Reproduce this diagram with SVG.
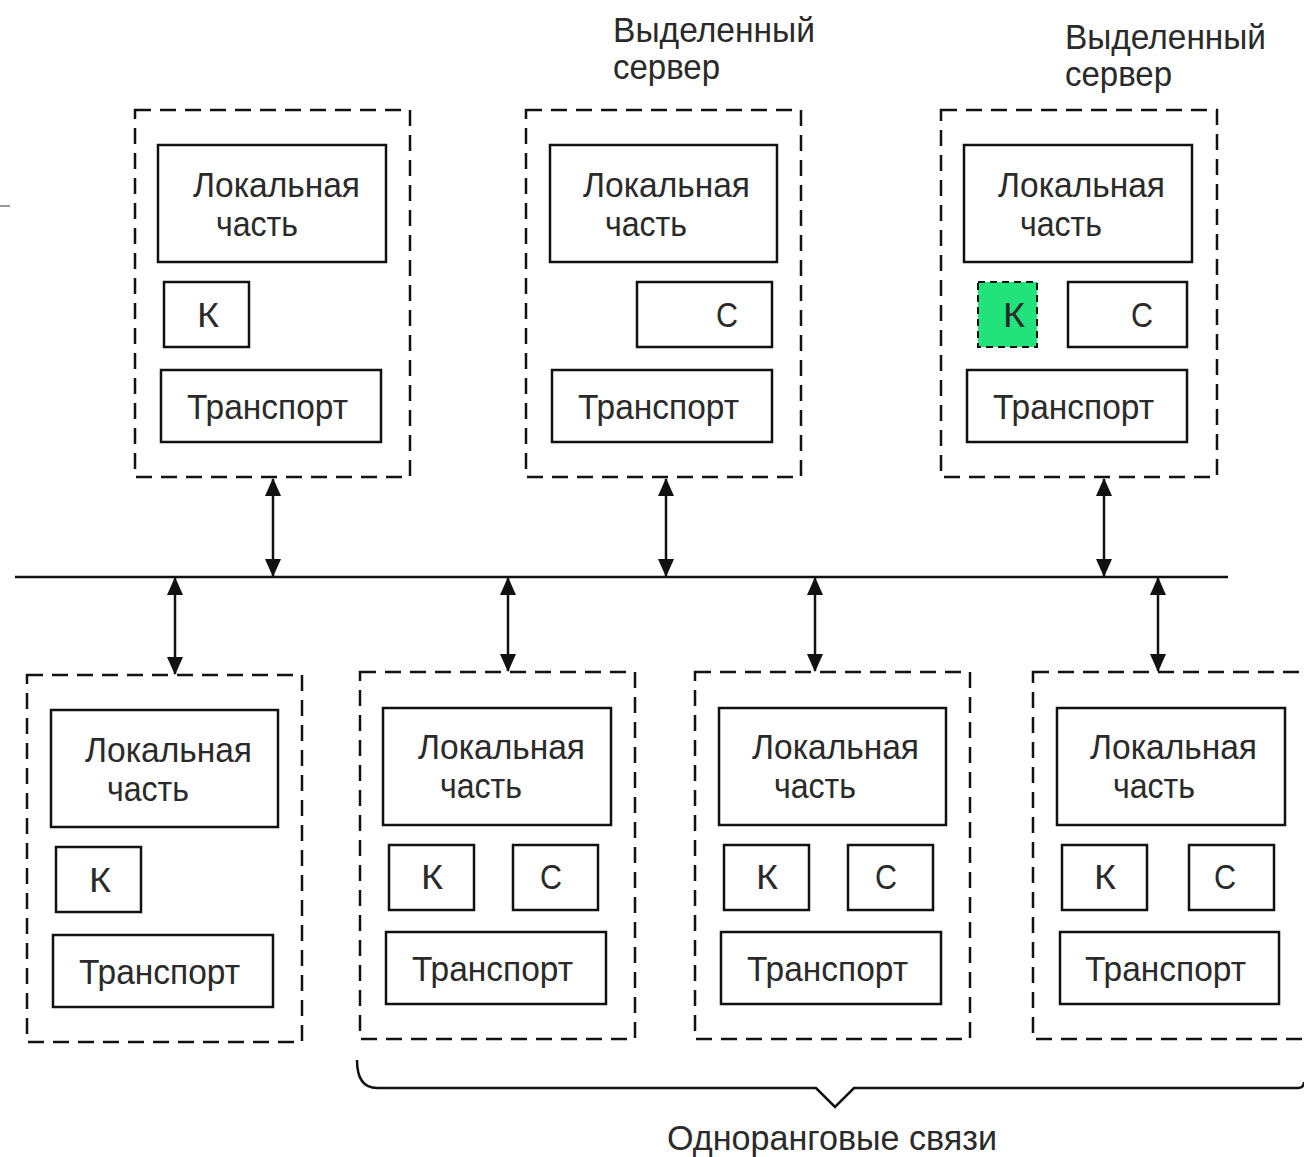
<svg xmlns="http://www.w3.org/2000/svg" width="1304" height="1157" viewBox="0 0 1304 1157">
<style>
.dash{fill:none;stroke:#111;stroke-width:2.5;stroke-dasharray:16 9}
.box{fill:#fff;stroke:#111;stroke-width:2.5}
.gbox{fill:#22e37a;stroke:#111;stroke-width:2;stroke-dasharray:7 5}
text{font-family:"Liberation Sans",Arial,sans-serif;font-size:35px;fill:#2a2a2a}
.lnk{stroke:#111;stroke-width:2.5;fill:none}
</style>
<defs>
<marker id="ah" viewBox="0 0 18 16" refX="17" refY="8" markerWidth="18" markerHeight="16" markerUnits="userSpaceOnUse" orient="auto-start-reverse">
<path d="M0,0 L18,8 L0,16 Z" fill="#111"/>
</marker>
</defs>
<rect width="1304" height="1157" fill="#fff"/>
<line x1="0" y1="206" x2="10" y2="206" stroke="#777" stroke-width="1.5"/>

<g id="label-server1">
<text x="613" y="42" textLength="202" lengthAdjust="spacingAndGlyphs">Выделенный</text>
<text x="613" y="79" textLength="107" lengthAdjust="spacingAndGlyphs">сервер</text>
</g>
<g id="label-server2">
<text x="1065" y="49" textLength="201" lengthAdjust="spacingAndGlyphs">Выделенный</text>
<text x="1065" y="86" textLength="107" lengthAdjust="spacingAndGlyphs">сервер</text>
</g>

<g id="node-top1">
<rect class="dash" x="135" y="110" width="275" height="367"/>
<rect class="box" x="158" y="145" width="228" height="117"/>
<text x="193" y="197" textLength="167" lengthAdjust="spacingAndGlyphs">Локальная</text>
<text x="216" y="236" textLength="82" lengthAdjust="spacingAndGlyphs">часть</text>
<rect class="box" x="164" y="282" width="85" height="65"/>
<text x="197" y="327" textLength="22" lengthAdjust="spacingAndGlyphs">К</text>
<rect class="box" x="161" y="370" width="220" height="72"/>
<text x="187" y="419" textLength="161" lengthAdjust="spacingAndGlyphs">Транспорт</text>
</g>

<g id="node-top2">
<rect class="dash" x="526" y="110" width="275" height="367"/>
<rect class="box" x="550" y="145" width="227" height="117"/>
<text x="583" y="197" textLength="167" lengthAdjust="spacingAndGlyphs">Локальная</text>
<text x="605" y="236" textLength="82" lengthAdjust="spacingAndGlyphs">часть</text>
<rect class="box" x="637" y="282" width="135" height="65"/>
<text x="716" y="327" textLength="22" lengthAdjust="spacingAndGlyphs">С</text>
<rect class="box" x="552" y="370" width="220" height="72"/>
<text x="578" y="419" textLength="161" lengthAdjust="spacingAndGlyphs">Транспорт</text>
</g>

<g id="node-top3">
<rect class="dash" x="941" y="110" width="276" height="367"/>
<rect class="box" x="964" y="145" width="228" height="117"/>
<text x="998" y="197" textLength="167" lengthAdjust="spacingAndGlyphs">Локальная</text>
<text x="1020" y="236" textLength="82" lengthAdjust="spacingAndGlyphs">часть</text>
<rect class="gbox" x="978" y="282" width="59" height="65"/>
<text x="1003" y="327" textLength="22" lengthAdjust="spacingAndGlyphs">К</text>
<rect class="box" x="1068" y="282" width="119" height="65"/>
<text x="1131" y="327" textLength="22" lengthAdjust="spacingAndGlyphs">С</text>
<rect class="box" x="967" y="370" width="220" height="72"/>
<text x="993" y="419" textLength="161" lengthAdjust="spacingAndGlyphs">Транспорт</text>
</g>

<g id="node-bot1">
<rect class="dash" x="27" y="675" width="275" height="367"/>
<rect class="box" x="51" y="710" width="227" height="117"/>
<text x="85" y="762" textLength="167" lengthAdjust="spacingAndGlyphs">Локальная</text>
<text x="107" y="801" textLength="82" lengthAdjust="spacingAndGlyphs">часть</text>
<rect class="box" x="56" y="847" width="85" height="65"/>
<text x="89" y="892" textLength="22" lengthAdjust="spacingAndGlyphs">К</text>
<rect class="box" x="53" y="935" width="220" height="72"/>
<text x="79" y="984" textLength="161" lengthAdjust="spacingAndGlyphs">Транспорт</text>
</g>

<g id="node-bot2">
<rect class="dash" x="360" y="672" width="275" height="367"/>
<rect class="box" x="383" y="708" width="228" height="117"/>
<text x="418" y="759" textLength="167" lengthAdjust="spacingAndGlyphs">Локальная</text>
<text x="440" y="798" textLength="82" lengthAdjust="spacingAndGlyphs">часть</text>
<rect class="box" x="389" y="845" width="85" height="65"/>
<text x="421" y="889" textLength="22" lengthAdjust="spacingAndGlyphs">К</text>
<rect class="box" x="513" y="845" width="85" height="65"/>
<text x="540" y="889" textLength="22" lengthAdjust="spacingAndGlyphs">С</text>
<rect class="box" x="386" y="932" width="220" height="72"/>
<text x="412" y="981" textLength="161" lengthAdjust="spacingAndGlyphs">Транспорт</text>
</g>

<g id="node-bot3">
<rect class="dash" x="695" y="672" width="275" height="367"/>
<rect class="box" x="719" y="708" width="227" height="117"/>
<text x="752" y="759" textLength="167" lengthAdjust="spacingAndGlyphs">Локальная</text>
<text x="774" y="798" textLength="82" lengthAdjust="spacingAndGlyphs">часть</text>
<rect class="box" x="724" y="845" width="85" height="65"/>
<text x="756" y="889" textLength="22" lengthAdjust="spacingAndGlyphs">К</text>
<rect class="box" x="848" y="845" width="85" height="65"/>
<text x="875" y="889" textLength="22" lengthAdjust="spacingAndGlyphs">С</text>
<rect class="box" x="721" y="932" width="220" height="72"/>
<text x="747" y="981" textLength="161" lengthAdjust="spacingAndGlyphs">Транспорт</text>
</g>

<g id="node-bot4">
<rect class="dash" x="1033" y="672" width="276" height="367"/>
<rect class="box" x="1057" y="708" width="228" height="117"/>
<text x="1090" y="759" textLength="167" lengthAdjust="spacingAndGlyphs">Локальная</text>
<text x="1113" y="798" textLength="82" lengthAdjust="spacingAndGlyphs">часть</text>
<rect class="box" x="1062" y="845" width="85" height="65"/>
<text x="1094" y="889" textLength="22" lengthAdjust="spacingAndGlyphs">К</text>
<rect class="box" x="1189" y="845" width="85" height="65"/>
<text x="1214" y="889" textLength="22" lengthAdjust="spacingAndGlyphs">С</text>
<rect class="box" x="1060" y="932" width="219" height="72"/>
<text x="1085" y="981" textLength="161" lengthAdjust="spacingAndGlyphs">Транспорт</text>
</g>

<g id="connectors">
<line class="lnk" x1="15" y1="577" x2="1228" y2="577"/>
<line class="lnk" x1="273" y1="479" x2="273" y2="576" marker-start="url(#ah)" marker-end="url(#ah)"/>
<line class="lnk" x1="666" y1="479" x2="666" y2="576" marker-start="url(#ah)" marker-end="url(#ah)"/>
<line class="lnk" x1="1104" y1="479" x2="1104" y2="576" marker-start="url(#ah)" marker-end="url(#ah)"/>
<line class="lnk" x1="175" y1="578" x2="175" y2="674" marker-start="url(#ah)" marker-end="url(#ah)"/>
<line class="lnk" x1="508" y1="578" x2="508" y2="671" marker-start="url(#ah)" marker-end="url(#ah)"/>
<line class="lnk" x1="815" y1="578" x2="815" y2="671" marker-start="url(#ah)" marker-end="url(#ah)"/>
<line class="lnk" x1="1158" y1="578" x2="1158" y2="671" marker-start="url(#ah)" marker-end="url(#ah)"/>
</g>

<g id="brace">
<path class="lnk" d="M357,1060 Q357,1088 377,1088 L816,1088 L835,1107 L854,1088 L1298,1088 Q1304,1088 1304,1082"/>
<text x="667" y="1150" textLength="330" lengthAdjust="spacingAndGlyphs">Одноранговые связи</text>
</g>
</svg>
